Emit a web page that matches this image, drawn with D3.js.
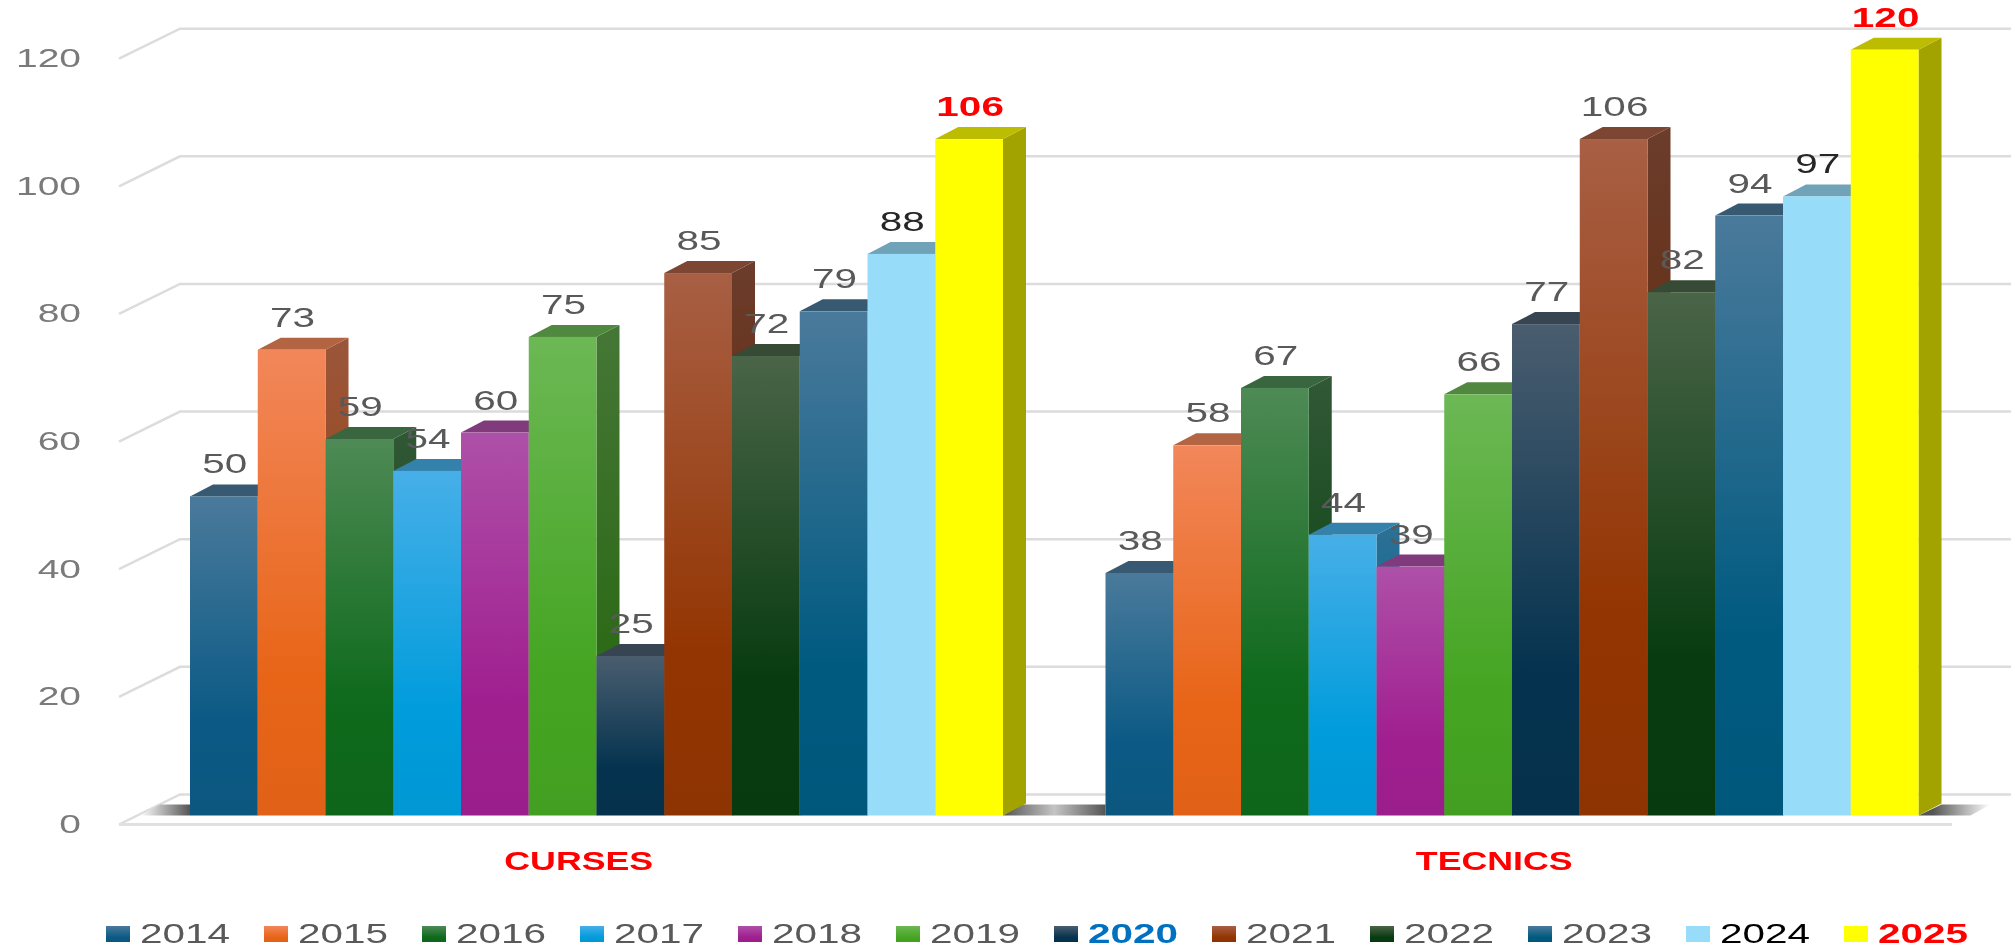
<!DOCTYPE html>
<html lang="en">
<head>
  <meta charset="utf-8">
  <title>Curses i tecnics per any</title>
  <script src="https://cdnjs.cloudflare.com/ajax/libs/d3/7.9.0/d3.min.js"></script>
  <style>
    html, body { margin: 0; padding: 0; background: #fff; overflow: hidden; }
    svg { display: block; font-family: "Liberation Sans", Arial, sans-serif; filter: blur(0.7px); }
  </style>
</head>
<body>
<div id="chart"></div>

<script>
const categories = ["CURSES", "TECNICS"];
const years = ["2014", "2015", "2016", "2017", "2018", "2019", "2020", "2021", "2022", "2023", "2024", "2025"];
const cursesValues = [50, 73, 59, 54, 60, 75, 25, 85, 72, 79, 88, 106];
const tecnicsValues = [38, 58, 67, 44, 39, 66, 77, 106, 82, 94, 97, 120];
const yTicks = [0, 20, 40, 60, 80, 100, 120];

// top of the gradient / base colour of each year
const topColors = ["#4a7a9b", "#f2875a", "#4e8a55", "#47afe8", "#ae50a8", "#6cb855", "#4a5d6f", "#a85f44", "#4a6448", "#4a7a9b", "#97ddf9", "#ffff00"];
const baseColors = ["#0b5a85", "#e86518", "#0e6a1c", "#009cdc", "#a01f90", "#45a522", "#05334f", "#933502", "#083c10", "#005a80", "#97ddf9", "#ffff00"];
const legendColors = ["#595959", "#595959", "#595959", "#595959", "#595959", "#595959", "#0070c0", "#595959", "#595959", "#595959", "#000000", "#ff0000"];

const w = 2015;
const h = 949;
const depthX = 23, depthY = 12;     // bar depth
const wallX = 61, wallY = 30;       // floor depth
const textStretch = 1.5;

const series = [cursesValues, tecnicsValues];

const x0 = d3.scaleBand().domain(categories).range([119, 1950]);
const x1 = d3.scaleBand().domain(years).range([71, 884]);
const y = d3.scaleLinear().domain([0, 120]).range([815.5, 49.7]);
const axisOffset = 9;               // axis front edge sits below the bar bases

const svg = d3.select("#chart").append("svg")
    .attr("width", w)
    .attr("height", h);

const defs = svg.append("defs");

function addGradient(id, top, base) {
    const g = defs.append("linearGradient").attr("id", id)
        .attr("x1", 0).attr("y1", 0).attr("x2", 0).attr("y2", 1);
    g.append("stop").attr("offset", "0%").attr("stop-color", top);
    g.append("stop").attr("offset", "70%").attr("stop-color", base);
    g.append("stop").attr("offset", "100%").attr("stop-color", top === base ? base : d3.color(base).darker(0.1));
}

years.forEach((yr, i) => {
    addGradient("front" + yr, topColors[i], baseColors[i]);
    addGradient("side" + yr, d3.color(topColors[i]).darker(1.25).formatHex(), d3.color(baseColors[i]).darker(1.25).formatHex());
});

// walls
const left = x0.range()[0];
const right = x0.range()[1];

const grid = svg.append("g").attr("fill", "none").attr("stroke", "#dcdcdc").attr("stroke-width", 2.5);
grid.selectAll("path")
    .data(yTicks)
    .enter()
    .append("path")
    .attr("d", d => {
        const yf = y(d) + axisOffset;
        return `M${left},${yf}L${left + wallX},${yf - wallY}L${right + wallX},${yf - wallY}`;
    });
grid.append("path")
    .attr("d", `M${left},${y(0) + axisOffset}L${right + 2},${y(0) + axisOffset}`)
    .attr("stroke", "#e0e0e0")
    .attr("stroke-width", 3);

// floor shadows
const shadowDark = defs.append("linearGradient").attr("id", "shadowGap");
shadowDark.append("stop").attr("offset", "0%").attr("stop-color", "#555");
shadowDark.append("stop").attr("offset", "50%").attr("stop-color", "#c4c4c4");
shadowDark.append("stop").attr("offset", "100%").attr("stop-color", "#555");
const shadowRight = defs.append("linearGradient").attr("id", "shadowRight");
shadowRight.append("stop").attr("offset", "20%").attr("stop-color", "#555");
shadowRight.append("stop").attr("offset", "100%").attr("stop-color", "#fff");
const shadowLeft = defs.append("linearGradient").attr("id", "shadowLeft");
shadowLeft.append("stop").attr("offset", "0%").attr("stop-color", "#fff");
shadowLeft.append("stop").attr("offset", "100%").attr("stop-color", "#555");

const floorFront = y(0), floorBack = y(0) - 11;
const firstLeft = x0(categories[0]) + x1(years[0]);
const firstRight = x0(categories[0]) + x1(years[11]) + x1.bandwidth();
const secondLeft = x0(categories[1]) + x1(years[0]);
const secondRight = x0(categories[1]) + x1(years[11]) + x1.bandwidth();

svg.append("path").attr("fill", "url(#shadowLeft)")
    .attr("d", `M${firstLeft - 50},${floorFront}L${firstLeft - 30},${floorBack}L${firstLeft},${floorBack}L${firstLeft},${floorFront}Z`);
svg.append("path").attr("fill", "url(#shadowGap)")
    .attr("d", `M${firstRight},${floorFront}L${firstRight + 18},${floorBack}L${secondLeft},${floorBack}L${secondLeft},${floorFront}Z`);
svg.append("path").attr("fill", "url(#shadowRight)")
    .attr("d", `M${secondRight},${floorFront}L${secondRight + 23},${floorBack}L${secondRight + 72},${floorBack}L${secondRight + 52},${floorFront}Z`);

// axis
const axis = d3.axisLeft(y).tickValues(yTicks).tickSize(0);
const axisG = svg.append("g")
    .attr("transform", `translate(${left},${axisOffset})`)
    .call(axis);
axisG.select(".domain").remove();
axisG.selectAll("text")
    .attr("x", 0)
    .attr("dy", "0.3em")
    .attr("font-size", 26)
    .attr("fill", "#7a7a7a")
    .attr("transform", `translate(-38,0) scale(${textStretch},1)`);

// bars, left to right so each one covers the side of the one before
const bars = [];
categories.forEach((cat, c) => {
    years.forEach((yr, i) => bars.push({ cat, yr, i, value: series[c][i] }));
});

const barG = svg.append("g").selectAll("g")
    .data(bars)
    .enter()
    .append("g")
    .attr("transform", d => `translate(${x0(d.cat) + x1(d.yr)},0)`);

const bw = x1.bandwidth();

barG.append("path")
    .attr("fill", d => "url(#side" + d.yr + ")")
    .attr("d", d => `M${bw},${y(d.value)}L${bw + depthX},${y(d.value) - depthY}L${bw + depthX},${y(0) - depthY}L${bw},${y(0)}Z`);

barG.append("path")
    .attr("fill", d => d3.color(topColors[d.i]).darker(0.85))
    .attr("d", d => `M0,${y(d.value)}L${depthX},${y(d.value) - depthY}L${bw + depthX},${y(d.value) - depthY}L${bw},${y(d.value)}Z`);

barG.append("rect")
    .attr("width", bw)
    .attr("y", d => y(d.value))
    .attr("height", d => y(0) - y(d.value))
    .attr("fill", d => "url(#front" + d.yr + ")");

// value labels go over every bar
svg.append("g").selectAll("text")
    .data(bars)
    .enter()
    .append("text")
    .attr("transform", d => `translate(${x0(d.cat) + x1(d.yr) + bw / 2 + 1},${y(d.value) - 23}) scale(${textStretch},1)`)
    .attr("text-anchor", "middle")
    .attr("font-size", 27)
    .attr("font-weight", d => d.yr === "2025" ? "bold" : "normal")
    .attr("fill", d => d.yr === "2025" ? "#ff0000" : d.yr === "2024" ? "#262626" : "#595959")
    .text(d => d.value);

// category labels
svg.append("g").selectAll("text")
    .data(categories)
    .enter()
    .append("text")
    .attr("transform", d => `translate(${x0(d) + x0.bandwidth() / 2 + 2},870) scale(1.43,1)`)
    .attr("text-anchor", "middle")
    .attr("font-size", 25)
    .attr("font-weight", "bold")
    .attr("fill", "#ff0000")
    .text(d => d);

// legend
const legendX = d3.scalePoint().domain(years).range([106, 1844]);
const legend = svg.append("g").selectAll("g")
    .data(years)
    .enter()
    .append("g")
    .attr("transform", d => `translate(${legendX(d)},924)`);

legend.append("rect")
    .attr("y", 2)
    .attr("width", 24)
    .attr("height", 16)
    .attr("fill", d => "url(#front" + d + ")");

legend.append("text")
    .attr("transform", `translate(34,19) scale(${textStretch},1)`)
    .attr("font-size", 27)
    .attr("font-weight", (d, i) => i === 6 || i === 11 ? "bold" : "normal")
    .attr("fill", (d, i) => legendColors[i])
    .text(d => d);
</script>
</body>
</html>
